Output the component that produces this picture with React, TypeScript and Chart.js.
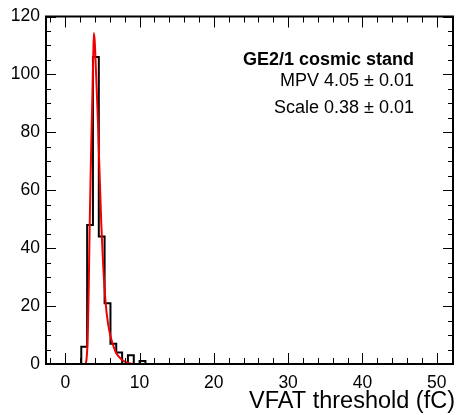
import { useEffect, useRef } from "react";
import { Chart, registerables } from "chart.js";

Chart.register(...registerables);

// ---- data ----
const binEdges = [2.15, 2.94, 3.72, 4.51, 5.29, 6.08, 6.86, 7.65, 8.43, 9.22, 10.0, 10.79];
const binCounts = [6, 48, 106, 44, 21, 7, 4, 0, 3, 0, 1];

const fitX = [2.72, 2.85, 2.95, 3.05, 3.15, 3.27, 3.4, 3.52, 3.65, 3.75, 3.85, 3.97, 4.13, 4.27, 4.4, 4.6, 4.85, 5.1, 5.43, 5.75, 6.1, 6.5, 6.87, 7.4, 8.0, 8.7, 9.2];
const fitY = [0, 1.5, 5, 13, 26, 46, 64, 79, 93, 105, 114.3, 111, 101, 92, 83, 67, 48, 34, 21, 14, 9.4, 6, 3.7, 2, 0.8, 0.2, 0];

const xMajorTicks = [0, 10, 20, 30, 40, 50];
const yMajorTicks = [0, 20, 40, 60, 80, 100, 120];
const xMin = -2.6;
const xMax = 52.2;
const yMin = 0;
const yMax = 120;

const labelTitle = "GE2/1 cosmic stand";
const labelMpv = "MPV 4.05 ± 0.01";
const labelScale = "Scale 0.38 ± 0.01";
const xAxisTitle = "VFAT threshold (fC)";

const FONT = "'Liberation Sans', Arial, Helvetica, sans-serif";

const rootStyle = {
  id: "rootStyle",
  afterDatasetsDraw(chart: any) {
    const { ctx, chartArea: a, scales } = chart;
    const xs = scales.x;
    const ys = scales.y;
    ctx.save();
    ctx.strokeStyle = "#000";
    ctx.lineWidth = 1;
    const seg = (x1: number, y1: number, x2: number, y2: number) => {
      ctx.beginPath();
      ctx.moveTo(x1, y1);
      ctx.lineTo(x2, y2);
      ctx.stroke();
    };
    // x ticks (bottom and top, inside)
    for (let v = -2; v <= 52; v += 2) {
      const px = Math.round(xs.getPixelForValue(v)) + 0.5;
      if (px < a.left + 1 || px > a.right - 1) continue;
      const len = v % 10 === 0 ? 11 : 6;
      seg(px, a.bottom, px, a.bottom - len);
      seg(px, a.top, px, a.top + len);
    }
    // y ticks (left and right, inside)
    for (let v = 0; v <= 120; v += 5) {
      const py = Math.round(ys.getPixelForValue(v)) + 0.5;
      if (py < a.top + 1 || py > a.bottom - 1) continue;
      const len = v % 20 === 0 ? 10 : 5;
      seg(a.left, py, a.left + len, py);
      seg(a.right, py, a.right - len, py);
    }
    // frame
    ctx.lineWidth = 2;
    ctx.strokeRect(a.left, a.top, a.right - a.left, a.bottom - a.top);

    // text labels
    ctx.fillStyle = "#000";
    ctx.textAlign = "right";
    ctx.textBaseline = "middle";
    ctx.font = `bold 18px ${FONT}`;
    ctx.fillText(labelTitle, a.right - 39, a.top + 44);
    ctx.font = `18px ${FONT}`;
    ctx.fillText(labelMpv, a.right - 39, a.top + 65);
    ctx.fillText(labelScale, a.right - 39, a.top + 92);

    // x axis title
    ctx.textBaseline = "alphabetic";
    ctx.font = `23.5px ${FONT}`;
    ctx.fillText(xAxisTitle, a.right + 2, a.bottom + 44);
    ctx.restore();
  },
};

export default function App() {
  const canvasRef = useRef<HTMLCanvasElement | null>(null);

  useEffect(() => {
    const canvas = canvasRef.current;
    if (!canvas) return;

    const histPoints: { x: number; y: number }[] = [{ x: xMin, y: 0 }];
    binCounts.forEach((c, i) => histPoints.push({ x: binEdges[i], y: c }));
    histPoints.push({ x: binEdges[binEdges.length - 1], y: 0 });
    histPoints.push({ x: xMax, y: 0 });

    const fitPoints = fitX.map((x, i) => ({ x, y: fitY[i] }));

    const chart = new Chart(canvas, {
      type: "line",
      data: {
        datasets: [
          {
            label: "fit",
            data: fitPoints,
            borderColor: "#f00000",
            borderWidth: 2,
            pointRadius: 0,
            fill: false,
            cubicInterpolationMode: "monotone",
            order: 0,
          },
          {
            label: "hist",
            data: histPoints,
            borderColor: "#000",
            borderWidth: 2,
            pointRadius: 0,
            fill: false,
            stepped: "before",
            order: 1,
          },
        ],
      },
      plugins: [rootStyle],
      options: {
        animation: false,
        responsive: false,
        maintainAspectRatio: false,
        layout: { padding: { top: 15, right: 3, left: 0, bottom: 0 } },
        plugins: {
          legend: { display: false },
          tooltip: { enabled: false },
        },
        scales: {
          x: {
            type: "linear",
            min: xMin,
            max: xMax,
            grid: { display: false, drawTicks: false },
            border: { display: false },
            afterBuildTicks: (s: any) => {
              s.ticks = xMajorTicks.map((v) => ({ value: v }));
            },
            afterFit: (s: any) => {
              s.height = 51;
            },
            ticks: {
              autoSkip: false,
              maxRotation: 0,
              padding: 9,
              color: "#000",
              font: { family: FONT, size: 17.5 },
              callback: (v: any) => String(v),
            },
          },
          y: {
            type: "linear",
            min: yMin,
            max: yMax,
            grid: { display: false, drawTicks: false },
            border: { display: false },
            afterBuildTicks: (s: any) => {
              s.ticks = yMajorTicks.map((v) => ({ value: v }));
            },
            afterFit: (s: any) => {
              s.width = 46;
            },
            ticks: {
              autoSkip: false,
              padding: 6,
              color: "#000",
              font: { family: FONT, size: 17.5 },
              callback: (v: any) => String(v),
            },
          },
        },
      },
    } as any);

    return () => chart.destroy();
  }, []);

  return (
    <div style={{ position: "fixed", left: 0, top: 0, width: 456, height: 415, background: "#fff" }}>
      <canvas ref={canvasRef} width={456} height={415} />
    </div>
  );
}
